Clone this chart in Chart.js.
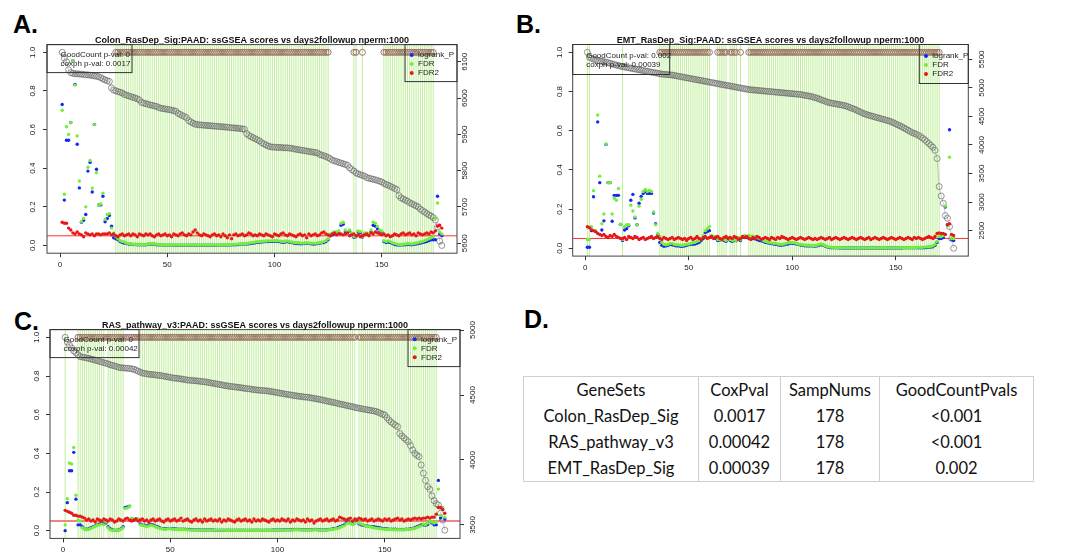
<!DOCTYPE html>
<html>
<head>
<meta charset="utf-8">
<script src="https://cdn.jsdelivr.net/npm/chart.js@4.4.1/dist/chart.umd.min.js"></script>
<style>
  body { margin: 0; width: 1072px; height: 556px; background: #fff; position: relative; overflow: hidden; }
  canvas { position: absolute; }
  .tag { position: absolute; font: bold 25px 'Liberation Sans', Arial, sans-serif; line-height: 25px; color: #000; }
  #tbl { position: absolute; left: 523px; top: 376px; border-collapse: collapse; table-layout: fixed;
         font-family: Lato, 'Open Sans', sans-serif; font-size: 16.5px; color: #111; border: 1px solid #cfcfcf; }
  #tbl td { border-left: 1px solid #cfcfcf; border-right: 1px solid #cfcfcf; padding: 0; height: 26px;
            text-align: center; white-space: nowrap; }
</style>
</head>
<body>
<div class="tag" style="left:13px;top:12px">A.</div>
<div class="tag" style="left:516px;top:12px">B.</div>
<div class="tag" style="left:14px;top:309px">C.</div>
<div class="tag" style="left:524px;top:307px">D.</div>
<canvas id="chartA" width="500" height="280" style="left:0;top:0"></canvas>
<canvas id="chartB" width="480" height="280" style="left:520px;top:0"></canvas>
<canvas id="chartC" width="500" height="271" style="left:0;top:285px"></canvas>
<table id="tbl"></table>
<script>
// ---- tick labels ----
const xTicks = [0, 50, 100, 150]
const pTicks = [0, 0.2, 0.4, 0.6, 0.8, 1.0]
const scoreTicksA = [5600, 5700, 5800, 5900, 6000, 6100]
const scoreTicksB = [2500, 3000, 3500, 4000, 4500, 5000, 5500]
const scoreTicksC = [3500, 4000, 4500, 5000]
const pCutoff = 0.05
const sigMarkValue = 1

// ---- panel A: Colon_RasDep_Sig ----
const scoreA = [6126,6110,6100,6078,
  6070,6068,6067,6067,6066,6066,
  6065,6064,6064,6063,6062,6061,6060,6059,
  6056,6053,6050,6048,6046,
  6028,
  6022,6020,6018,6016,6014,
  6010,6008,6006,6004,6002,6000,5998,5995,
  5988,5986,5985,5983,5981,5980,5978,5977,
  5974,5972,5971,5970,5969,5968,5967,5965,5964,
  5958,5955,5952,5949,5946,
  5938,5934,5931,
  5928,5927,5926,5926,5925,5925,5924,5924,5923,5923,5922,5922,5921,5921,5920,5920,5919,
  5918,5918,5917,5917,5916,5915,5914,
  5902,
  5897,5894,5891,5888,5885,5882,
  5877,5874,5871,5868,5866,
  5865,5865,5864,5864,5864,5863,5863,5863,5862,5862,
  5860,5859,5858,5857,5856,5855,5854,5853,5852,5851,5850,5849,
  5845,5843,5841,5839,5836,5833,
  5829,5827,5825,5823,5821,5819,5817,5815,
  5808,5803,5799,
  5794,5791,5789,5787,5785,
  5781,5779,5778,5776,5775,5773,5771,5769,
  5765,5762,5760,5757,5754,5751,5748,
  5731,
  5725,5722,5719,5716,
  5712,5709,5706,5703,5700,
  5694,5690,5686,5682,5678,5675,
  5671,5664,5645,5606,5594]
const logrankA = [.73,.235,.545,.545,.637,.957,.834,.524,.298,.12,
  .13,.16,.385,.43,.277,.627,.395,.21,.21,.255,
  .123,.14,.155,.10,.04,
  .035,.03,.02,.015,.012,
  .01,.008,.006,.005,.005,.004,.004,.004,.003,.003,
  .006,.007,.008,.006,.004,.003,.003,.002,.002,.002,
  .002,.002,.001,.001,.001,.001,.001,.001,.001,.001,
  .001,.001,.001,.001,.001,.001,.001,.001,.001,.001,
  .001,.001,.001,.002,.002,.002,.002,.002,.003,.003,
  .004,.004,.005,.006,.006,.007,.008,.009,.01,.012,
  .014,.016,.017,.018,.019,.02,.02,.021,.021,.022,
  .022,.02,.018,.016,.018,.02,.017,.015,.012,.01,
  .01,.009,.009,.01,.011,.01,.009,.008,.008,.01,
  .012,.014,.015,.02,.03,
  .05,.055,.06,.06,.065,.105,.11,.07,.065,.075,.06,.042,.045,.07,.065,.044,.06,.06,.055,.07,.105,.10,.085,.075,.07,
  .02,.015,.018,.015,.01,.005,.003,.002,.002,.003,.004,.006,.005,.004,.006,.008,.01,.012,.015,.018,.02,.025,.03,.03,
  .03,.255,.06,.05]
const fdrA = [.70,.265,.615,.575,.637,.957,.83,.567,.334,.123,
  .14,.20,.405,.44,.297,.627,.377,.21,.215,.27,
  .135,.16,.165,.09,.065,
  .045,.035,.025,.02,.018,
  .012,.01,.008,.006,.006,.005,.005,.005,.004,.004,
  .008,.01,.01,.008,.006,.005,.004,.003,.003,.003,
  .003,.003,.002,.002,.002,.002,.002,.002,.002,.002,
  .002,.002,.002,.002,.002,.002,.002,.002,.002,.002,
  .002,.002,.002,.003,.003,.003,.003,.004,.005,.005,
  .006,.006,.007,.008,.008,.009,.01,.012,.014,.016,
  .018,.019,.02,.021,.022,.023,.024,.024,.025,.025,
  .025,.024,.022,.02,.022,.024,.02,.018,.016,.014,
  .014,.013,.012,.013,.014,.013,.012,.012,.011,.013,
  .015,.017,.02,.025,.035,
  .06,.065,.07,.07,.075,.115,.12,.08,.07,.08,.065,.046,.048,.075,.072,.047,.065,.065,.06,.08,.12,.115,.10,.08,.075,
  .025,.02,.024,.02,.014,.01,.007,.005,.004,.006,.008,.01,.009,.008,.01,.012,.015,.018,.02,.025,.03,.035,.04,.045,
  .14,.22,.07,.06]
const fdr2A = [.12,.115,.115,.09,.08,.065,.06,.07,.06,.055,
  .045,.065,.06,.055,.06,.05,.06,.06,.055,.06,
  .06,.06,.065,.055,.06,.05,.045,.055,.06,.05,
  .055,.06,.05,.06,.055,.045,.06,.055,.05,.06,
  .055,.06,.05,.045,.055,.06,.05,.055,.06,.05,
  .055,.045,.06,.055,.05,.06,.065,.055,.05,.06,
  .055,.07,.08,.065,.055,.05,.06,.055,.05,.045,
  .055,.06,.05,.055,.045,.06,.05,.04,.055,.035,
  .055,.06,.05,.055,.06,.05,.055,.065,.06,.05,
  .055,.05,.06,.055,.05,.06,.055,.05,.045,.06,
  .055,.05,.06,.065,.055,.05,.06,.055,.05,.045,
  .055,.06,.05,.055,.04,.06,.05,.055,.06,.05,
  .055,.065,.07,.06,.055,.05,.06,.065,.055,.06,
  .06,.055,.06,.065,.05,.055,.06,.05,.055,.045,
  .05,.055,.06,.05,.065,.06,.07,.065,.06,.055,
  .06,.05,.055,.045,.05,.06,.055,.05,.06,.065,
  .055,.06,.065,.055,.06,.05,.065,.06,.055,.06,
  .065,.06,.07,.065,.075,.10,.105,.09]
const sigA = [[26, 125], [137, 138], [141, 141], [151, 174]]
const markA = [[26, 125], [137, 138], [141, 141], [151, 174]]

// ---- panel B: EMT_RasDep_Sig ----
const scoreB = [5623,5537,5520,5503,5486,5479,5472,5465,5458,5451,
  5441,5431,5420,5410,5400,5390,5383,
  5372,5366,5359,5352,5345,5338,5331,5324,
  5318,5311,5304,5297,5290,5283,5276,5269,5263,5256,
  5249,5242,5239,5235,5232,5228,5225,5218,5211,5204,
  5197,5191,5184,5177,5170,5163,5156,5149,5142,5136,
  5129,5122,5115,5108,5101,5094,5088,5081,5074,5067,
  5060,5053,5047,5040,5033,5026,5019,5012,5005,4998,
  4992,4985,4978,4971,4967,4964,4961,4957,4954,4950,
  4947,4943,4940,4937,4933,4930,4926,4923,4919,4916,
  4913,4909,4906,4902,4899,4895,4892,4889,4885,4878,
  4871,4864,4858,4851,4841,4830,4820,4806,4792,4779,
  4765,4751,4741,4734,4727,4720,4714,4707,4700,4693,
  4683,4669,4655,4641,4628,4611,4593,4576,4559,4545,
  4532,4521,4511,4501,4490,4480,4470,4460,4449,4439,
  4429,4418,4405,4388,4370,4353,4336,4319,4298,4278,
  4257,4237,4216,4202,
  4188,4168,4147,4120,4092,4061,4027,3993,3959,3907,
  3763,3272,3107,2980,2764,2716,2569,2363,2191]
const logrankB = [.005,.005,.09,.263,.085,.645,.335,.093,.14,.53,
  .335,.335,.138,.27,.27,.27,.122,.04,.093,.10,
  .115,.245,.275,.155,.12,.23,.265,.28,.29,.28,
  .28,.28,.18,.125,.07,
  .03,.015,.01,.012,.015,.02,.018,.015,.012,.012,.01,.01,.012,.015,.018,.02,.02,.022,.025,.03,.04,.05,.08,.085,.09,
  .06,.055,.05,
  .04,.042,.045,.04,.035,
  .05,
  .04,.035,.04,.038,
  .05,
  .04,
  .055,.06,.055,
  .055,.05,.05,.048,.045,.04,.038,.035,.03,.028,
  .026,.024,.022,.02,.018,.016,.016,.018,.02,.022,
  .026,.025,.024,.022,.02,.017,.015,.013,.012,.012,
  .012,.011,.01,.012,.016,.018,.015,.01,.006,.004,
  .003,.002,.002,.002,.001,.001,.001,.001,.001,.001,
  .001,.001,.001,.001,.001,.001,.001,.001,.001,.001,
  .001,.001,.001,.001,.001,.001,.001,.001,.001,.001,
  .001,.001,.001,.001,.001,.002,.002,.002,.002,.002,
  .002,.002,.002,.002,.003,.003,.004,.005,.006,.008,
  .015,.03,.05,
  .05,.055,.21,.12,.605,.045,.04]
const fdrB = [.045,.045,.11,.294,.09,.68,.368,.125,.175,.532,
  .335,.335,.175,.255,.245,.305,.122,.045,.11,.12,
  .12,.22,.19,.16,.12,.215,.25,.29,.30,.29,
  .295,.29,.185,.12,.075,
  .06,.03,.02,.018,.02,.025,.025,.02,.018,.018,.015,.015,.018,.02,.022,.025,.028,.03,.035,.04,.05,.065,.09,.1,.11,
  .065,.06,.06,
  .045,.045,.048,.045,.04,
  .055,
  .045,.04,.042,.04,
  .055,
  .045,
  .06,.065,.06,
  .065,.06,.062,.058,.055,.05,.045,.04,.035,.032,
  .03,.028,.025,.025,.022,.02,.02,.022,.025,.028,
  .03,.03,.028,.025,.022,.02,.018,.016,.015,.015,
  .014,.013,.012,.015,.02,.022,.018,.012,.008,.006,
  .005,.004,.004,.003,.003,.003,.002,.002,.002,.002,
  .002,.002,.002,.002,.002,.002,.002,.002,.002,.002,
  .002,.002,.002,.002,.003,.003,.003,.002,.002,.002,
  .002,.002,.002,.003,.003,.003,.003,.003,.004,.004,
  .004,.004,.005,.005,.005,.006,.007,.008,.01,.012,
  .02,.035,.06,
  .06,.065,.215,.115,.465,.05,.05]
const fdr2B = [.11,.105,.095,.09,.085,.075,.07,.065,.07,.06,
  .055,.065,.06,.07,.06,.055,.05,.05,.055,.045,
  .06,.055,.05,.06,.055,.045,.05,.055,.045,.05,
  .055,.06,.05,.055,.06,.05,.045,.055,.05,.045,
  .05,.055,.045,.05,.055,.05,.045,.05,.04,.05,
  .055,.045,.05,.06,.05,.045,.055,.06,.05,.055,
  .06,.05,.055,.06,.05,.045,.055,.06,.05,.055,
  .05,.06,.055,.045,.05,.06,.055,.06,.05,.045,
  .055,.05,.06,.055,.045,.05,.055,.05,.045,.055,
  .05,.045,.055,.05,.06,.055,.05,.045,.05,.055,
  .05,.045,.05,.055,.05,.045,.05,.055,.05,.045,
  .05,.045,.05,.055,.05,.045,.05,.055,.045,.05,
  .055,.05,.045,.05,.055,.05,.045,.05,.055,.05,
  .045,.05,.055,.05,.045,.05,.055,.045,.05,.055,
  .05,.045,.05,.055,.05,.045,.05,.055,.05,.045,
  .05,.055,.05,.045,.05,.055,.05,.045,.055,.05,
  .055,.05,.045,.05,.055,.06,.055,.05,.06,.075,
  .078,.075,.075,.07,.12,.125,.07,.065]
const sigB = [[1, 2], [18, 18], [36, 60], [64, 68], [70, 73], [75, 75], [79, 171]]
const markB = [[36, 60], [64, 68], [70, 73], [75, 75], [79, 171]]

// ---- panel C: RAS_pathway_v3 ----
const scoreC = [4944,4907,4884,4862,4840,4825,4810,4795,
  4792,4789,4785,4782,4777,4773,4768,4764,4758,
  4754,4749,4745,4739,4733,4728,4724,4719,4713,
  4710,4709,4707,4706,4704,4701,4698,
  4691,4684,4676,4669,
  4666,4663,4660,4658,4657,4655,4652,4651,4648,4645,4642,
  4639,4636,4633,4630,4629,4626,4624,4621,4618,4615,
  4614,4612,4611,4609,4608,4605,4603,4602,4599,4596,4593,4590,
  4587,4584,4581,4578,4575,4572,4569,4566,4565,
  4563,4560,4559,4556,4553,4551,4548,4547,4544,4542,4539,
  4538,4536,4535,4533,4532,4530,4527,4524,4521,4518,
  4515,4512,4509,4506,4504,4501,4498,4496,4493,4490,
  4489,4486,4484,4483,4480,4477,4474,4471,4468,4465,4462,
  4457,4454,4450,4447,4443,4440,4435,4431,
  4428,4425,4420,4417,4413,4410,4405,4402,4398,
  4395,4392,4389,4386,4383,4380,4377,4373,
  4367,4359,4352,4346,4326,4307,4292,4279,4267,4257,
  4204,4185,4170,4155,4140,4111,4077,4051,4036,4026,
  3962,3898,3843,3795,3774,3724,3687,3664,3654,3590,3538,3460]
const logrankC = [0,.145,.31,.31,.405,.163,.03,.03,
  .02,.01,.008,.01,.015,.02,.025,.03,.035,.04,.035,
  .04,
  .02,.01,.005,.003,.003,.005,.01,.02,
  .12,.123,.127,.06,.055,.06,.058,
  .035,.03,.028,.025,.03,.032,.03,.025,.02,.015,
  .012,.01,.01,.012,.012,.01,.01,.009,.008,.008,
  .008,.007,.006,.006,.005,.005,.005,.005,.004,.004,
  .004,.004,.004,.004,.004,.003,.003,.003,.003,.003,
  .003,.003,.003,.003,.003,.003,.003,.003,.003,.003,
  .003,.003,.003,.003,.003,.003,.003,.003,.003,.003,
  .003,.003,.004,.004,.004,.004,.004,.005,.005,.005,
  .005,.005,.006,.006,.006,.005,.005,.005,.005,.005,
  .005,.006,.006,.005,.004,.004,.004,.005,.006,.008,
  .01,.012,.015,.02,.025,.03,.04,.045,.04,.035,.04,
  .055,
  .035,.03,.028,.025,.025,.022,.02,.02,.018,.016,
  .014,.012,.01,.01,.008,.008,.007,.007,.006,.006,
  .006,.006,.007,.008,.01,.012,.015,.02,.025,.03,
  .03,.028,.032,.047,.04,.03,.03,
  .26,.065,.11,.06]
const fdrC = [.03,.165,.35,.345,.43,.183,.055,.05,
  .015,.01,.005,.008,.012,.018,.022,.028,.03,.035,.03,
  .045,
  .015,.005,.002,.002,.003,.004,.008,.015,
  .115,.118,.125,.065,.06,.062,.06,
  .03,.028,.025,.02,.025,.028,.025,.02,.016,.012,
  .01,.008,.008,.01,.01,.008,.008,.007,.006,.006,
  .006,.005,.005,.004,.004,.004,.004,.004,.003,.003,
  .003,.003,.003,.003,.003,.003,.003,.003,.003,.003,
  .002,.002,.002,.002,.002,.002,.002,.002,.002,.002,
  .002,.002,.002,.002,.002,.002,.002,.002,.002,.002,
  .002,.002,.003,.003,.003,.003,.003,.004,.004,.004,
  .004,.004,.005,.005,.005,.004,.004,.004,.004,.004,
  .004,.005,.005,.004,.003,.003,.003,.004,.005,.006,
  .008,.01,.012,.015,.02,.025,.035,.04,.038,.032,.038,
  .06,
  .04,.035,.03,.025,.022,.02,.018,.015,.013,.012,
  .01,.009,.008,.007,.006,.006,.005,.005,.005,.005,
  .005,.005,.006,.007,.008,.01,.012,.016,.02,.025,
  .035,.03,.04,.05,.045,.04,.045,
  .215,.08,.12,.07]
const fdr2C = [.105,.10,.095,.09,.08,.08,.075,.075,.07,.065,
  .055,.06,.05,.055,.045,.06,.055,.05,.06,.055,
  .05,.06,.055,.045,.05,.06,.055,.05,.06,.065,
  .055,.05,.055,.06,.05,.055,.06,.05,.055,.045,
  .055,.06,.05,.055,.06,.05,.045,.055,.06,.05,
  .055,.06,.05,.055,.065,.05,.055,.06,.05,.045,
  .055,.06,.05,.055,.045,.06,.05,.055,.06,.05,
  .055,.05,.06,.045,.055,.05,.06,.055,.05,.045,
  .055,.06,.05,.055,.06,.05,.055,.045,.06,.05,
  .055,.05,.06,.055,.05,.045,.055,.06,.05,.055,
  .05,.06,.055,.05,.06,.045,.055,.05,.06,.055,
  .05,.055,.045,.06,.05,.055,.04,.05,.055,.06,
  .05,.055,.06,.05,.055,.06,.05,.055,.07,.065,
  .06,.055,.06,.065,.05,.06,.055,.065,.06,.055,
  .06,.05,.055,.06,.05,.055,.06,.055,.05,.06,
  .055,.06,.05,.055,.06,.065,.055,.06,.05,.055,
  .06,.055,.06,.065,.06,.065,.06,.065,.065,.07,
  .065,.07,.07,.085,.12,.12,.11,.09]
const sigC = [[1, 1], [7, 19], [21, 28], [36, 136], [138, 174]]
const markC = [[7, 136], [138, 174]]

// ---- table D ----
const tableCols = ['GeneSets', 'CoxPval', 'SampNums', 'GoodCountPvals']
const geneSets = ['Colon_RasDep_Sig', 'RAS_pathway_v3', 'EMT_RasDep_Sig']
const coxPval = ['0.0017', '0.00042', '0.00039']
const sampNums = [178, 178, 178]
const goodCountPvals = ['<0.001', '<0.001', '0.002']
const colWidths = [175, 82, 99, 154]

const lengths = { scoreA, logrankA, fdrA, fdr2A, scoreB, logrankB, fdrB, fdr2B, scoreC, logrankC, fdrC, fdr2C }
Object.entries(lengths).forEach(([k, v]) => {
  if (v.length !== 178) throw new Error(k + ' has ' + v.length + ' values')
})

const FONT = "'Liberation Sans', Arial, sans-serif"
const blue = '#1428f0'
const green = '#74ee3c'
const red = '#e81818'
const brown = '#9c7466'
const sigLineColor = 'rgba(150,228,90,0.6)'

const pts = (arr) => arr.map((v, i) => ({ x: i + 1, y: v }))
const rangePts = (ranges) => {
  const out = []
  ranges.forEach(([s, e]) => {
    for (let i = s; i <= e; i++) out.push({ x: i, y: sigMarkValue })
  })
  return out
}

// draws the R-style frame, title, rotated y labels, inset boxes
function rPanel (g) {
  return {
    id: 'rpanel',
    beforeDatasetsDraw (chart) {
      const { ctx, chartArea: a, scales } = chart
      ctx.save()
      ctx.beginPath()
      ctx.rect(a.left, a.top, a.right - a.left, a.bottom - a.top)
      ctx.clip()
      ctx.strokeStyle = sigLineColor
      ctx.lineWidth = 1
      g.sig.forEach(([s, e]) => {
        for (let i = s; i <= e; i++) {
          const px = scales.x.getPixelForValue(i)
          ctx.beginPath()
          ctx.moveTo(px, a.top)
          ctx.lineTo(px, a.bottom)
          ctx.stroke()
        }
      })
      const py = scales.y.getPixelForValue(pCutoff)
      ctx.strokeStyle = g.cutColor
      ctx.lineWidth = g.cutWidth
      ctx.beginPath()
      ctx.moveTo(a.left, py)
      ctx.lineTo(a.right, py)
      ctx.stroke()
      ctx.restore()
    },
    afterDraw (chart) {
      const { ctx, chartArea: a, scales } = chart
      ctx.save()
      ctx.strokeStyle = '#444'
      ctx.lineWidth = 1
      ctx.strokeRect(a.left, a.top, a.right - a.left, a.bottom - a.top)

      ctx.fillStyle = '#111'
      ctx.font = 'bold 9px ' + FONT
      ctx.textAlign = 'center'
      ctx.textBaseline = 'alphabetic'
      ctx.fillText(g.title, (a.left + a.right) / 2, a.top - 2)

      ctx.font = '8px ' + FONT
      ctx.fillStyle = '#222'
      ctx.textBaseline = 'middle'
      scales.y.ticks.forEach(t => {
        ctx.save()
        ctx.translate(a.left - g.lOff, scales.y.getPixelForValue(t.value))
        ctx.rotate(-Math.PI / 2)
        ctx.fillText(t.value.toFixed(1), 0, 0)
        ctx.restore()
      })
      scales.y2.ticks.forEach(t => {
        ctx.save()
        ctx.translate(a.right + g.rOff, scales.y2.getPixelForValue(t.value))
        ctx.rotate(-Math.PI / 2)
        ctx.fillText(String(t.value), 0, 0)
        ctx.restore()
      })

      // stats box, top left
      ctx.strokeStyle = '#333'
      ctx.strokeRect(a.left, a.top, g.statsW, g.statsH)
      ctx.textAlign = 'left'
      g.stats.forEach((s, k) => ctx.fillText(s, a.left + 13.5, a.top + g.rowY + k * 9))

      // legend box, top right
      const lx = a.right - g.legW
      ctx.strokeRect(lx, a.top, g.legW, g.legH)
      chart.data.datasets.filter(d => d.inLegend).forEach((d, k) => {
        const yy = a.top + g.rowY + k * 9
        ctx.fillStyle = d.backgroundColor
        ctx.beginPath()
        ctx.arc(lx + 6.7, yy, 2, 0, Math.PI * 2)
        ctx.fill()
        ctx.fillStyle = '#222'
        ctx.fillText(d.label, lx + 13, yy)
      })
      ctx.restore()
    }
  }
}

function makeChart (id, d, g) {
  const tickGrid = { drawOnChartArea: false, drawTicks: true, tickLength: 4, color: '#333', lineWidth: 1 }
  return new Chart(document.getElementById(id), {
    type: 'scatter',
    data: {
      datasets: [
        { label: 'logrank_P', data: pts(d.logrank), backgroundColor: blue, pointRadius: 1.7, pointBorderWidth: 0, order: 2, inLegend: true },
        { label: 'FDR', data: pts(d.fdr), backgroundColor: green, pointRadius: 1.7, pointBorderWidth: 0, order: 1, inLegend: true },
        { label: 'FDR2', data: pts(d.fdr2), backgroundColor: red, pointRadius: 1.7, pointBorderWidth: 0, order: 0, inLegend: true },
        {
          label: 'ssGSEA score', data: pts(d.score), yAxisID: 'y2', showLine: true,
          borderColor: 'rgba(120,120,120,0.7)', borderWidth: 0.5, pointRadius: 3, pointBorderWidth: 0.7,
          pointBorderColor: '#6a6a6a', pointBackgroundColor: 'rgba(0,0,0,0)', backgroundColor: 'rgba(0,0,0,0)', order: 4
        },
        {
          label: 'significant', data: rangePts(d.mark), pointRadius: 3, pointBorderWidth: 1,
          pointBorderColor: brown, pointBackgroundColor: 'rgba(0,0,0,0)', backgroundColor: 'rgba(0,0,0,0)', order: 3
        }
      ]
    },
    options: {
      responsive: false,
      devicePixelRatio: 1,
      animation: false,
      events: [],
      layout: { autoPadding: false, padding: { top: g.top, left: 0, right: 0, bottom: 0 } },
      plugins: { legend: { display: false }, tooltip: { enabled: false }, title: { display: false } },
      scales: {
        x: {
          type: 'linear', min: -6.08, max: 185.08,
          afterBuildTicks: s => { s.ticks = xTicks.map(v => ({ value: v })) },
          afterFit: s => { s.height = g.xh },
          grid: tickGrid,
          border: { display: false },
          ticks: { font: { size: 8, family: FONT }, color: '#222', padding: 3, maxRotation: 0, autoSkip: false, callback: v => String(v) }
        },
        y: {
          type: 'linear', position: 'left', min: -0.04, max: 1.04,
          afterBuildTicks: s => { s.ticks = pTicks.map(v => ({ value: v })) },
          afterFit: s => { s.width = g.yl },
          grid: tickGrid,
          border: { display: false },
          ticks: { display: false }
        },
        y2: {
          type: 'linear', position: 'right', min: g.y2min, max: g.y2max,
          afterBuildTicks: s => { s.ticks = d.scoreTicks.map(v => ({ value: v })) },
          afterFit: s => { s.width = g.yr },
          grid: tickGrid,
          border: { display: false },
          ticks: { display: false }
        }
      }
    },
    plugins: [rPanel({ ...g, sig: d.sig })]
  })
}

makeChart('chartA',
  { score: scoreA, logrank: logrankA, fdr: fdrA, fdr2: fdr2A, sig: sigA, mark: markA, scoreTicks: scoreTicksA },
  {
    title: 'Colon_RasDep_Sig:PAAD: ssGSEA scores vs days2followup nperm:1000',
    stats: ['GoodCount p-val: 0', 'coxph p-val: ' + coxPval[0]],
    top: 44.6, xh: 26.8, yl: 47, yr: 43, y2min: 5572.7, y2max: 6147.3,
    lOff: 14, rOff: 8, statsW: 85, statsH: 28, legW: 52, legH: 37, rowY: 10.5,
    cutColor: '#ff3030', cutWidth: 1
  })

makeChart('chartB',
  { score: scoreB, logrank: logrankB, fdr: fdrB, fdr2: fdr2B, sig: sigB, mark: markB, scoreTicks: scoreTicksB },
  {
    title: 'EMT_RasDep_Sig:PAAD: ssGSEA scores vs days2followup nperm:1000',
    stats: ['GoodCount p-val: 0.002', 'coxph p-val: ' + coxPval[2]],
    top: 44.5, xh: 23.9, yl: 52.7, yr: 31.7, y2min: 2053.7, y2max: 5760.3,
    lOff: 13, rOff: 13, statsW: 97, statsH: 30, legW: 49, legH: 39, rowY: 11.5,
    cutColor: '#ff3030', cutWidth: 1
  })

makeChart('chartC',
  { score: scoreC, logrank: logrankC, fdr: fdrC, fdr2: fdr2C, sig: sigC, mark: markC, scoreTicks: scoreTicksC },
  {
    title: 'RAS_pathway_v3:PAAD: ssGSEA scores vs days2followup nperm:1000',
    stats: ['GoodCount p-val: 0', 'coxph p-val: ' + coxPval[1]],
    top: 44.6, xh: 17.6, yl: 50, yr: 40, y2min: 3396.5, y2max: 5003.5,
    lOff: 13, rOff: 13, statsW: 89, statsH: 28, legW: 52, legH: 37, rowY: 9.7,
    cutColor: 'rgba(240,110,110,0.85)', cutWidth: 2
  })

// table
const tbl = document.getElementById('tbl')
const colgroup = document.createElement('colgroup')
colWidths.forEach(w => {
  const c = document.createElement('col')
  c.style.width = w + 'px'
  colgroup.appendChild(c)
})
tbl.appendChild(colgroup)
const rows = [tableCols].concat(geneSets.map((gs, i) => [gs, coxPval[i], String(sampNums[i]), goodCountPvals[i]]))
rows.forEach(r => {
  const tr = document.createElement('tr')
  r.forEach(cell => {
    const td = document.createElement('td')
    td.textContent = cell
    tr.appendChild(td)
  })
  tbl.appendChild(tr)
})
</script>
</body>
</html>
